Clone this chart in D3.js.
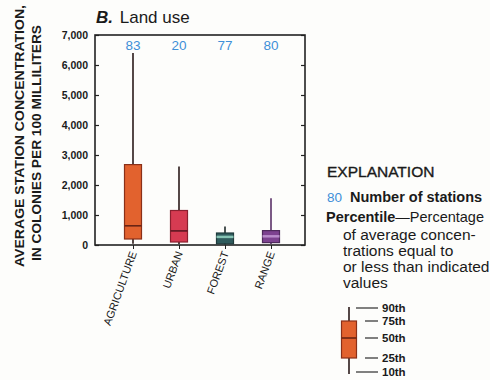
<!DOCTYPE html>
<html>
<head>
<meta charset="utf-8">
<script src="https://cdn.jsdelivr.net/npm/d3@7"></script>
<style>
  body { margin: 0; background: #fdfdfb; }
  svg { font-family: "Liberation Sans", Arial, sans-serif; }
</style>
</head>
<body>
<div id="chart"></div>
<script>
// land use categories and percentile values (colonies per 100 mL)
let categories = ["AGRICULTURE", "URBAN", "FOREST", "RANGE"];
let stations = [83, 20, 77, 80];
let p10 = [40, 30, 20, 30];
let p25 = [200, 100, 40, 80];
let p50 = [640, 470, 270, 290];
let p75 = [2680, 1150, 400, 480];
let p90 = [6400, 2620, 620, 1560];
let yTicks = [0, 1000, 2000, 3000, 4000, 5000, 6000, 7000];

let fill_colors = ["#e2622e", "#d63b52", "#2f5b5c", "#7d4290"];
let median_colors = ["#6a2414", "#5c1822", "#86c4b4", "#b98ccb"];
let edge_colors = ["#8a3018", "#8a2030", "#1e3a3a", "#4e2a5c"];
let whisker_colors = ["#2a1a1a", "#2a1a1a", "#1e2a2a", "#5a3068"];

let width = 490, height = 380;
let svg = d3.select("#chart").append("svg")
    .attr("width", width)
    .attr("height", height);

let x = d3.scalePoint().domain(categories).range([133, 271]);
let y = d3.scaleLinear().domain([0, 7000]).range([245, 35]);
let boxW = 17;

// title
let title = svg.append("text").attr("x", 96).attr("y", 23).style("font-size", "17px").attr("fill", "#1a1a1a");
title.append("tspan").text("B.").style("font-weight", "bold").style("font-style", "italic");
title.append("tspan").text(" Land use").attr("dx", 2);

// y axis title (two rotated lines)
svg.append("text")
    .attr("transform", "translate(24,136) rotate(-90)")
    .attr("text-anchor", "middle")
    .attr("textLength", 262)
    .attr("lengthAdjust", "spacingAndGlyphs")
    .style("font-size", "12px").style("font-weight", "bold").attr("fill", "#1a1a1a")
    .text("AVERAGE STATION CONCENTRATION,");
svg.append("text")
    .attr("transform", "translate(41,143) rotate(-90)")
    .attr("text-anchor", "middle")
    .attr("textLength", 236)
    .attr("lengthAdjust", "spacingAndGlyphs")
    .style("font-size", "12px").style("font-weight", "bold").attr("fill", "#1a1a1a")
    .text("IN COLONIES PER 100 MILLILITERS");

// left axis with inward ticks
let left = svg.append("g").attr("transform", "translate(95,0)")
    .call(d3.axisLeft(y).tickValues(yTicks).tickSize(-4).tickPadding(7).tickFormat(d3.format(",")));
left.select(".domain").remove();
left.selectAll("line").attr("stroke", "#222").attr("stroke-width", 1.2);
left.selectAll("text").style("font-size", "10.5px").style("font-weight", "bold")
    .style("font-family", "Liberation Sans, Arial, sans-serif").attr("fill", "#1a1a1a");

// right axis with inward ticks
let right = svg.append("g").attr("transform", "translate(305,0)")
    .call(d3.axisRight(y).tickValues(yTicks).tickSize(-4).tickFormat(""));
right.select(".domain").remove();
right.selectAll("line").attr("stroke", "#222").attr("stroke-width", 1.2);

// bottom ticks at categories
let bottom = svg.append("g").attr("transform", "translate(0,245)")
    .call(d3.axisBottom(x).tickSize(4).tickFormat(""));
bottom.select(".domain").remove();
bottom.selectAll("line").attr("stroke", "#222").attr("stroke-width", 1);

// plot frame
svg.append("rect")
    .attr("x", 95).attr("y", 35).attr("width", 210).attr("height", 210)
    .attr("fill", "none").attr("stroke", "#222").attr("stroke-width", 1.6);

// category labels
svg.selectAll()
    .data(categories)
    .enter()
    .append("text")
    .attr("transform", function (d) { return "translate(" + (x(d) + 4) + ",253) rotate(-70)"; })
    .attr("text-anchor", "end")
    .style("font-size", "11px")
    .attr("fill", "#1a1a1a")
    .text(function (d) { return d; });

// station counts
svg.selectAll()
    .data(categories)
    .enter()
    .append("text")
    .attr("x", function (d) { return x(d); })
    .attr("y", 50)
    .attr("text-anchor", "middle")
    .style("font-size", "13.5px")
    .attr("fill", "#3d8fd8")
    .text(function (d, i) { return stations[i]; });

// whiskers
svg.selectAll()
    .data(categories)
    .enter()
    .append("line")
    .attr("x1", function (d) { return x(d); })
    .attr("x2", function (d) { return x(d); })
    .attr("y1", function (d, i) { return y(p90[i]); })
    .attr("y2", function (d, i) { return y(p10[i]); })
    .attr("stroke", function (d, i) { return whisker_colors[i]; })
    .attr("stroke-width", 1.6);

// boxes
svg.selectAll()
    .data(categories)
    .enter()
    .append("rect")
    .attr("x", function (d) { return x(d) - boxW / 2; })
    .attr("y", function (d, i) { return y(p75[i]); })
    .attr("width", boxW)
    .attr("height", function (d, i) { return y(p25[i]) - y(p75[i]); })
    .attr("fill", function (d, i) { return fill_colors[i]; })
    .attr("stroke", function (d, i) { return edge_colors[i]; })
    .attr("stroke-width", 1.2);

// medians
svg.selectAll()
    .data(categories)
    .enter()
    .append("line")
    .attr("x1", function (d) { return x(d) - boxW / 2; })
    .attr("x2", function (d) { return x(d) + boxW / 2; })
    .attr("y1", function (d, i) { return y(p50[i]); })
    .attr("y2", function (d, i) { return y(p50[i]); })
    .attr("stroke", function (d, i) { return median_colors[i]; })
    .attr("stroke-width", function (d, i) { return i < 2 ? 1.6 : 2.5; });

// explanation
let lg = svg.append("g").attr("fill", "#1a1a1a");
lg.append("text").attr("x", 327).attr("y", 177).style("font-size", "15.5px")
    .attr("stroke", "#1a1a1a").attr("stroke-width", 0.35).text("EXPLANATION");
lg.append("text").attr("x", 327).attr("y", 202).style("font-size", "13.5px").attr("fill", "#3d8fd8").text(stations[3]);
lg.append("text").attr("x", 350).attr("y", 202).style("font-size", "14.5px").style("font-weight", "bold").text("Number of stations");
let pct = lg.append("text").attr("x", 326).attr("y", 222).style("font-size", "14.5px");
pct.append("tspan").style("font-weight", "bold").text("Percentile");
pct.append("tspan").text("\u2014Percentage");
let expl = ["of average concen-", "trations equal to", "or less than indicated", "values"];
lg.selectAll(".expl")
    .data(expl)
    .enter()
    .append("text")
    .attr("x", 343)
    .attr("y", function (d, i) { return 240 + i * 16; })
    .style("font-size", "15.5px")
    .text(function (d) { return d; });

// legend box sample
let legPos = [374, 358, 338, 321, 307]; // 10th, 25th, 50th, 75th, 90th
let legLabels = ["10th", "25th", "50th", "75th", "90th"];
let lx = 349;
lg.append("line").attr("x1", lx).attr("x2", lx).attr("y1", legPos[4]).attr("y2", legPos[0])
    .attr("stroke", "#2a1a1a").attr("stroke-width", 1.6);
lg.append("rect").attr("x", lx - 7.5).attr("y", legPos[3]).attr("width", 15).attr("height", legPos[1] - legPos[3])
    .attr("fill", fill_colors[0]).attr("stroke", edge_colors[0]).attr("stroke-width", 1.2);
lg.append("line").attr("x1", lx - 7.5).attr("x2", lx + 7.5).attr("y1", legPos[2]).attr("y2", legPos[2])
    .attr("stroke", median_colors[0]).attr("stroke-width", 1.6);
lg.selectAll(".pl")
    .data(legLabels)
    .enter()
    .append("line")
    .attr("x1", function (d, i) { return (i === 0 || i === 4) ? 356 : 365; })
    .attr("x2", 378)
    .attr("y1", function (d, i) { return legPos[i] - (i === 0 ? 2 : (i === 4 ? -1 : 0)); })
    .attr("y2", function (d, i) { return legPos[i] - (i === 0 ? 2 : (i === 4 ? -1 : 0)); })
    .attr("stroke", "#1a1a1a").attr("stroke-width", 1.1);
lg.selectAll(".pt")
    .data(legLabels)
    .enter()
    .append("text")
    .attr("x", 382)
    .attr("y", function (d, i) { return legPos[i] - (i === 0 ? 2 : (i === 4 ? -1 : 0)) + 4; })
    .style("font-size", "11.5px").style("font-weight", "bold")
    .text(function (d) { return d; });
</script>
</body>
</html>
